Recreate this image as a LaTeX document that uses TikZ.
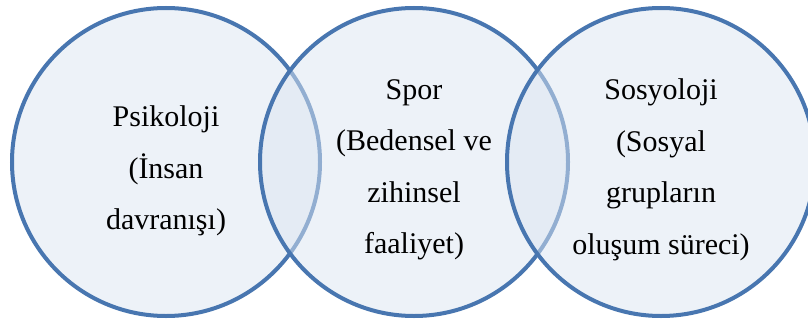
\documentclass[tikz,border=0pt]{standalone}
\usepackage{fontspec}
\setmainfont{Liberation Serif}
\definecolor{vennline}{RGB}{72,118,176}
\definecolor{vennfill}{RGB}{220,230,242}
\tikzset{
  venn/.style={draw=vennline, line width=4pt, fill=vennfill, fill opacity=0.5, draw opacity=1},
  lbl/.style={align=center, text=black, font=\fontsize{30}{51.5}\selectfont, inner sep=0pt}
}
\begin{document}
\begin{tikzpicture}[x=1pt,y=-1pt]
\useasboundingbox (0,0) rectangle (808,321);
\clip (0,0) rectangle (808,321);
\fill[white] (0,0) rectangle (808,321);
\draw[venn] (166,162) circle[radius=154];
\draw[venn] (414,162) circle[radius=154];
\draw[venn] (661,162) circle[radius=154];
\node[lbl] (psi) at (166,171) {Psikoloji\\(İnsan\\davranışı)};
\node[lbl] (spor) at (414,170) {Spor\\(Bedensel ve\\zihinsel\\faaliyet)};
\node[lbl] (sos) at (661,170) {Sosyoloji\\(Sosyal\\grupların\\oluşum süreci)};
\end{tikzpicture}
\end{document}
